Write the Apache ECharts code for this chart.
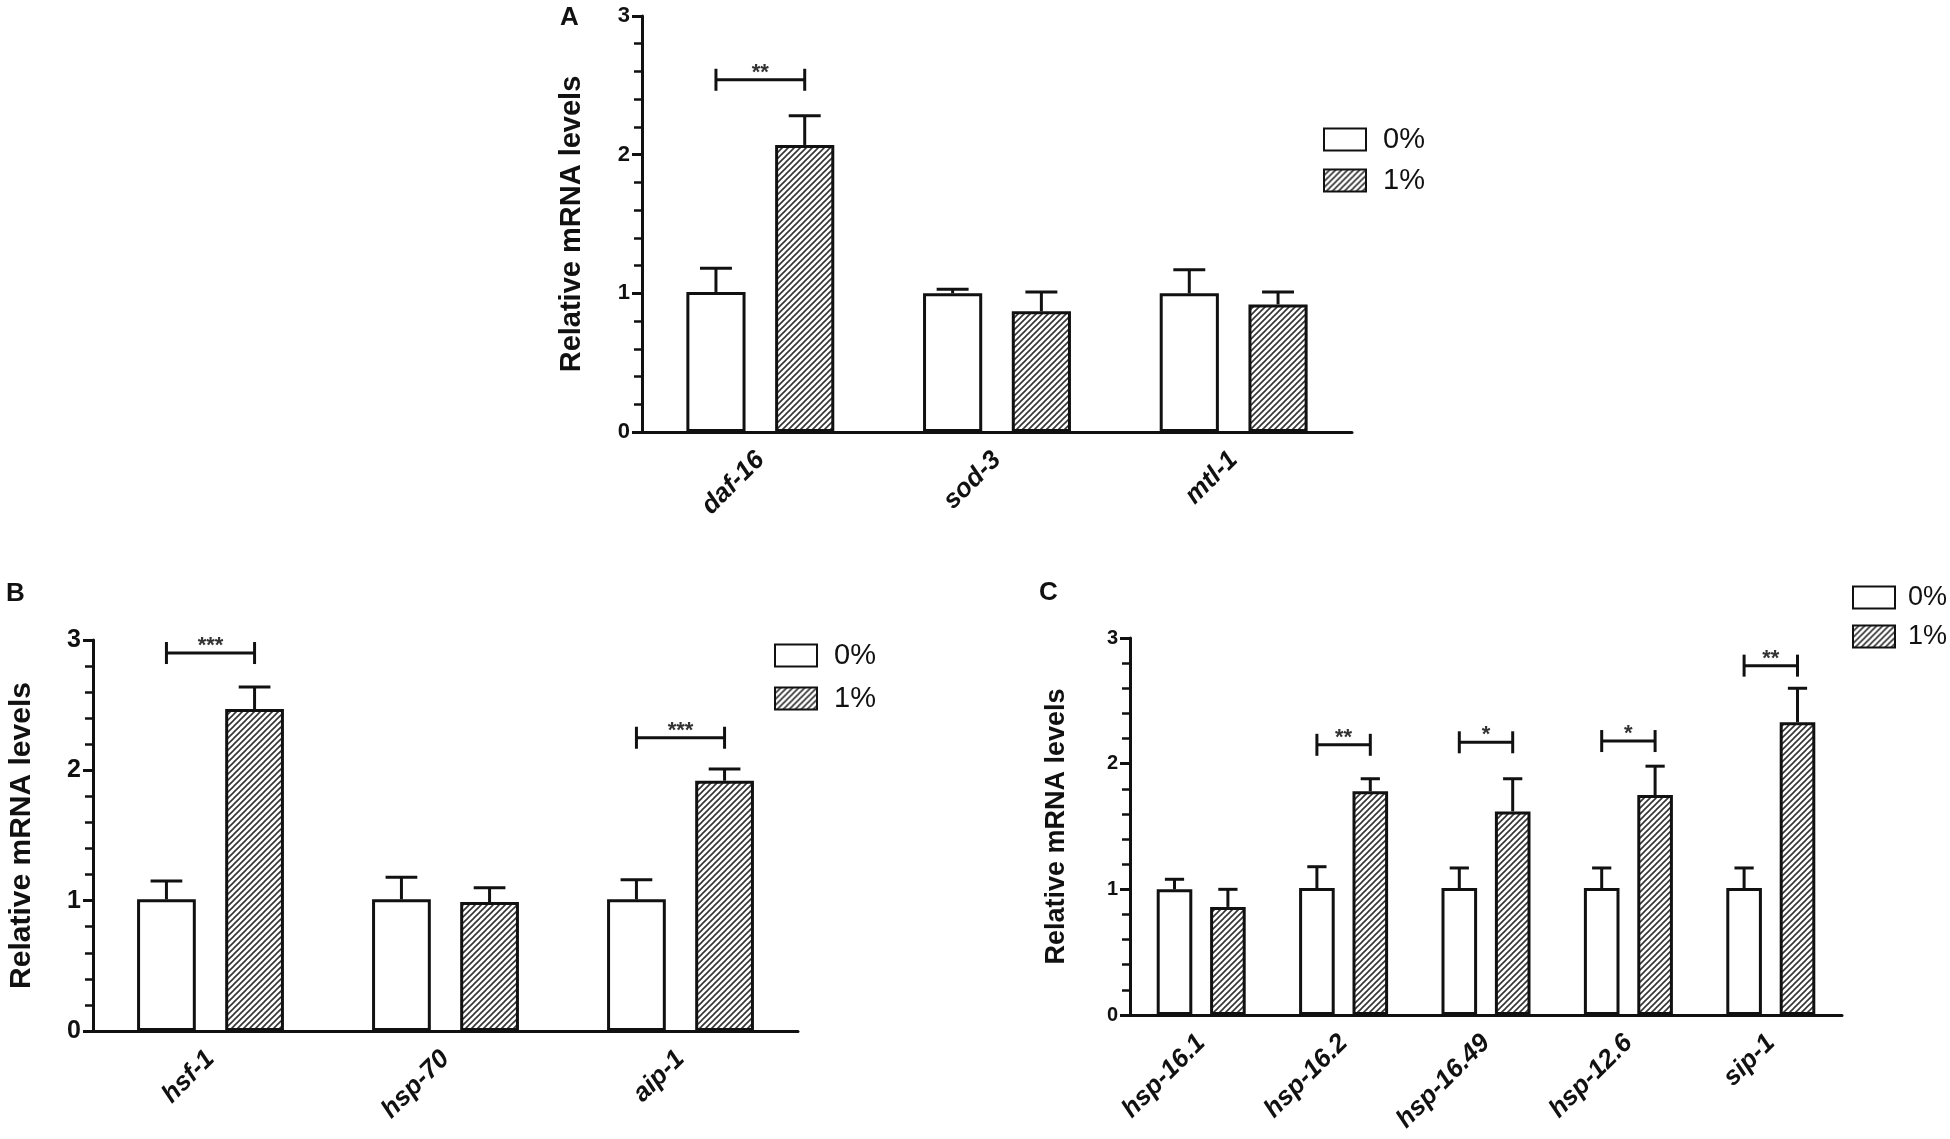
<!DOCTYPE html>
<html>
<head>
<meta charset="utf-8">
<script src="https://cdn.jsdelivr.net/npm/echarts@6/dist/echarts.min.js"></script>
<style>
  html, body { margin: 0; padding: 0; background: #fff; }
  #chart { width: 1950px; height: 1139px; }
</style>
</head>
<body>
<div id="chart"></div>
<script>
// panel A
var catsA = ['daf-16', 'sod-3', 'mtl-1'];
var ctrlA = [1.01, 1.00, 1.00];
var ctrlErrA = [0.17, 0.03, 0.17];
var treatA = [2.07, 0.87, 0.92];
var treatErrA = [0.21, 0.14, 0.09];
var sigA = [[0, 2.54, '**']];

// panel B
var catsB = ['hsf-1', 'hsp-70', 'aip-1'];
var ctrlB = [1.01, 1.01, 1.01];
var ctrlErrB = [0.14, 0.17, 0.15];
var treatB = [2.47, 0.99, 1.92];
var treatErrB = [0.17, 0.11, 0.09];
var sigB = [[0, 2.90, '***'], [2, 2.25, '***']];

// panel C
var catsC = ['hsp-16.1', 'hsp-16.2', 'hsp-16.49', 'hsp-12.6', 'sip-1'];
var ctrlC = [1.00, 1.01, 1.01, 1.01, 1.01];
var ctrlErrC = [0.08, 0.17, 0.16, 0.16, 0.16];
var treatC = [0.86, 1.78, 1.62, 1.75, 2.33];
var treatErrC = [0.14, 0.10, 0.26, 0.23, 0.27];
var sigC = [[1, 2.15, '**'], [2, 2.17, '*'], [3, 2.18, '*'], [4, 2.78, '**']];

var yTicks = [0, 1, 2, 3];
var groupNames = ['0%', '1%'];

var FONT = 'Liberation Sans, Arial, sans-serif';
var INK = '#111';

// diagonal hatch for the 1% bars
var hatch = document.createElement('canvas');
hatch.width = 6; hatch.height = 6;
var hc = hatch.getContext('2d');
hc.fillStyle = '#fff';
hc.fillRect(0, 0, 6, 6);
hc.strokeStyle = '#333';
hc.lineWidth = 1.6;
hc.beginPath();
hc.moveTo(0, 6); hc.lineTo(6, 0);
hc.moveTo(-1, 1); hc.lineTo(1, -1);
hc.moveTo(5, 7); hc.lineTo(7, 5);
hc.stroke();
var hatchFill = {image: hatch, repeat: 'repeat'};

var panels = [
    {cats: catsA, ctrl: ctrlA, ce: ctrlErrA, treat: treatA, te: treatErrA, sig: sigA,
     grid: {left: 642, top: 16, width: 710, height: 416},
     legend: {left: 1318, top: 120, gap: 12, font: 29, pad: 12},
     tickFont: 22, nameFont: 29, nameGap: 56},
    {cats: catsB, ctrl: ctrlB, ce: ctrlErrB, treat: treatB, te: treatErrB, sig: sigB,
     grid: {left: 93, top: 640, width: 705, height: 391},
     legend: {left: 769, top: 636, gap: 14, font: 29, pad: 12},
     tickFont: 25, nameFont: 30, nameGap: 56},
    {cats: catsC, ctrl: ctrlC, ce: ctrlErrC, treat: treatC, te: treatErrC, sig: sigC,
     grid: {left: 1130, top: 638, width: 712, height: 377},
     legend: {left: 1847, top: 579, gap: 12, font: 27, pad: 8},
     tickFont: 20, nameFont: 27, nameGap: 60}
];

function errorBar(params, api) {
    var x = api.value(0), y = api.value(1), e = api.value(2), side = api.value(3);
    var band = api.size([1, 0])[0];
    var w = band * 0.25;
    var base = api.coord([x, y]);
    var top = api.coord([x, y + e]);
    var cx = base[0] + side * 0.75 * w;
    var cap = w * 0.27;
    return {
        type: 'group',
        children: [
            {type: 'line', shape: {x1: cx, y1: base[1], x2: cx, y2: top[1]},
             style: {stroke: INK, lineWidth: 3}},
            {type: 'line', shape: {x1: cx - cap, y1: top[1], x2: cx + cap, y2: top[1]},
             style: {stroke: INK, lineWidth: 3}}
        ]
    };
}

function sigBracket(params, api) {
    var x = api.value(0), y = api.value(1);
    var band = api.size([1, 0])[0];
    var w = band * 0.25;
    var p = api.coord([x, y]);
    var x1 = p[0] - 0.75 * w, x2 = p[0] + 0.75 * w;
    return {
        type: 'group',
        children: [
            {type: 'line', shape: {x1: x1, y1: p[1], x2: x2, y2: p[1]}, style: {stroke: INK, lineWidth: 3}},
            {type: 'line', shape: {x1: x1, y1: p[1] - 11, x2: x1, y2: p[1] + 11}, style: {stroke: INK, lineWidth: 3}},
            {type: 'line', shape: {x1: x2, y1: p[1] - 11, x2: x2, y2: p[1] + 11}, style: {stroke: INK, lineWidth: 3}},
            {type: 'text', x: p[0], y: p[1] + 4,
             style: {text: api.value(2), fill: '#333', font: 'bold 22px ' + FONT, align: 'center', verticalAlign: 'bottom'}}
        ]
    };
}

var grids = [], xAxes = [], yAxes = [], legends = [], series = [];
panels.forEach(function (p, i) {
    grids.push(p.grid);
    xAxes.push({
        type: 'category', gridIndex: i, data: p.cats,
        axisLine: {lineStyle: {color: INK, width: 3}},
        axisTick: {alignWithLabel: true, length: 11, lineStyle: {width: 3, color: INK}},
        axisLabel: {rotate: 45, margin: 24, color: INK, fontSize: 26, fontWeight: 'bold',
                    fontStyle: 'italic', fontFamily: FONT}
    });
    yAxes.push({
        type: 'value', gridIndex: i, min: yTicks[0], max: yTicks[yTicks.length - 1], interval: 1,
        name: 'Relative mRNA levels', nameLocation: 'middle', nameRotate: 90, nameGap: p.nameGap,
        nameTextStyle: {fontSize: p.nameFont, fontWeight: 'bold', color: INK, fontFamily: FONT},
        axisLine: {show: true, lineStyle: {color: INK, width: 3}},
        axisTick: {show: true, length: 10, lineStyle: {width: 3, color: INK}},
        minorTick: {show: true, splitNumber: 5, length: 8, lineStyle: {width: 2.5, color: INK}},
        splitLine: {show: false},
        axisLabel: {margin: 12, color: INK, fontSize: p.tickFont, fontWeight: 'bold', fontFamily: FONT}
    });
    legends.push({
        left: p.legend.left, top: p.legend.top, orient: 'vertical', icon: 'rect',
        data: groupNames, itemWidth: 42, itemHeight: 22, itemGap: p.legend.gap,
        textStyle: {fontSize: p.legend.font, lineHeight: 22, color: INK, fontFamily: FONT,
                    padding: [0, 0, 0, p.legend.pad]},
        selectedMode: false
    });
    series.push({
        type: 'bar', name: groupNames[0], xAxisIndex: i, yAxisIndex: i, data: p.ctrl,
        barWidth: '25%', barGap: '50%',
        itemStyle: {color: '#fff', borderColor: INK, borderWidth: 3}
    });
    series.push({
        type: 'bar', name: groupNames[1], xAxisIndex: i, yAxisIndex: i, data: p.treat,
        barWidth: '25%', barGap: '50%',
        itemStyle: {color: hatchFill, borderColor: INK, borderWidth: 3}
    });
    series.push({
        type: 'custom', name: 'err' + i, xAxisIndex: i, yAxisIndex: i, z: 5,
        renderItem: errorBar,
        data: p.ctrl.map(function (v, k) { return [k, v, p.ce[k], -1]; })
            .concat(p.treat.map(function (v, k) { return [k, v, p.te[k], 1]; }))
    });
    series.push({
        type: 'custom', name: 'sig' + i, xAxisIndex: i, yAxisIndex: i, z: 5,
        renderItem: sigBracket,
        data: p.sig
    });
});

var chart = echarts.init(document.getElementById('chart'));
chart.setOption({
    animation: false,
    backgroundColor: '#fff',
    grid: grids,
    xAxis: xAxes,
    yAxis: yAxes,
    legend: legends,
    series: series,
    graphic: [
        {type: 'text', left: 560, top: 5, style: {text: 'A', font: 'bold 26px ' + FONT, fill: INK}},
        {type: 'text', left: 6, top: 581, style: {text: 'B', font: 'bold 26px ' + FONT, fill: INK}},
        {type: 'text', left: 1039, top: 580, style: {text: 'C', font: 'bold 26px ' + FONT, fill: INK}}
    ]
});
</script>
</body>
</html>
